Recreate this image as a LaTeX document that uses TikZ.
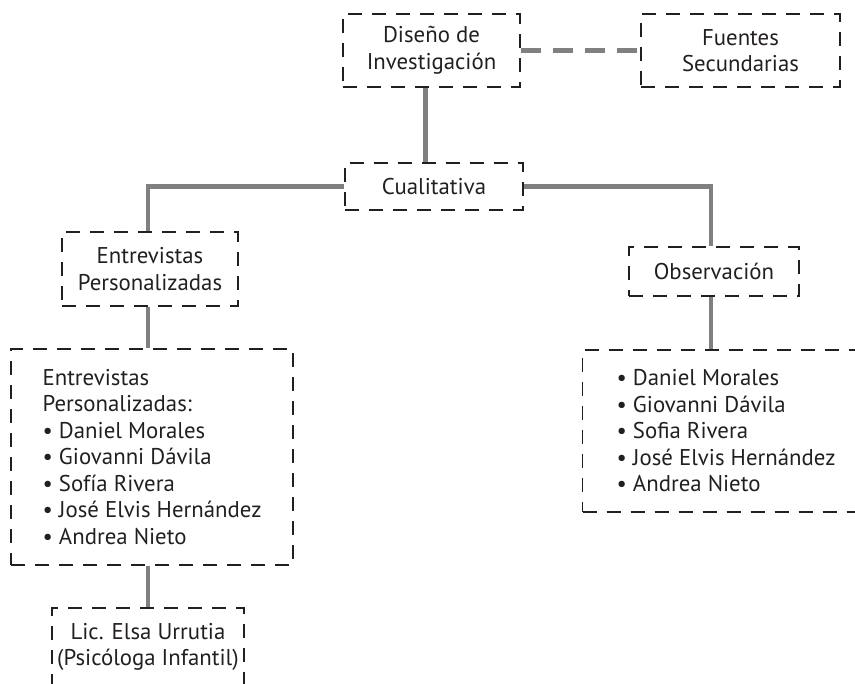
\documentclass[tikz,border=0pt]{standalone}
\usepackage{fontspec}
\setmainfont{PT Sans}
\usetikzlibrary{positioning}
\definecolor{ink}{HTML}{231F20}
\definecolor{linegray}{HTML}{808080}
\begin{document}
\begin{tikzpicture}[x=1pt,y=-1pt,font=\fontsize{22.8}{26.5}\selectfont,text=ink]
        % Define styles for boxes and connectors
        \tikzset{
            dbox/.style={draw=ink, line width=1.2pt, dash pattern=on 14pt off 10pt, align=center, inner sep=0pt},
            listbox/.style={dbox, align=left},
            conn/.style={draw=linegray, line width=4.5pt},
            dconn/.style={conn, dash pattern=on 20pt off 12pt}
        }
        \useasboundingbox (0,0) rectangle (855,684);
        % Top row
        \node[dbox, minimum width=177pt, minimum height=73pt] (diseno) at (431.5, 50.5) {Diseño de\\Investigación};
        \node[dbox, minimum width=199pt, minimum height=73pt] (fuentes) at (740.5, 50.5) {Fuentes\\Secundarias};
        \node[dbox, minimum width=178pt, minimum height=47pt] (cualit) at (434, 186.5) {Cualitativa};
        % Left branch
        \node[dbox, minimum width=176pt, minimum height=74pt] (entrev) at (150, 269) {Entrevistas\\Personalizadas};
        \node[listbox, minimum width=282pt, minimum height=216pt] (lista1) at (152, 457) {
            Entrevistas\\
            Personalizadas:\\
            • Daniel Morales\\
            • Giovanni Dávila\\
            • Sofía Rivera\\
            • José Elvis Hernández\\
            • Andrea Nieto
        };
        \node[dbox, minimum width=192pt, minimum height=78pt] (lic) at (148, 647) {Lic. Elsa Urrutia\\(Psicóloga Infantil)};
        % Right branch
        \node[dbox, minimum width=170pt, minimum height=49pt] (obs) at (714, 271.5) {Observación};
        \node[listbox, minimum width=287pt, minimum height=162pt] (lista2) at (726, 431) {
            • Daniel Morales\\
            • Giovanni Dávila\\
            • Sofia Rivera\\
            • José Elvis Hernández\\
            • Andrea Nieto
        };
        % Connectors
        \draw[dconn] (diseno.east) -- (fuentes.west);
        \draw[conn] ([xshift=-6pt]diseno.south) -- ([xshift=-6pt]diseno.south |- cualit.north);
        \draw[conn] (cualit.west) -| ([xshift=-2pt]entrev.north);
        \draw[conn] (cualit.east) -| ([xshift=-3pt]obs.north);
        \draw[conn] ([xshift=-2pt]entrev.south) -- ([xshift=-2pt]entrev.south |- lista1.north);
        \draw[conn] (lic.north |- lista1.south) -- (lic.north);
        \draw[conn] ([xshift=-3pt]obs.south) -- ([xshift=-3pt]obs.south |- lista2.north);
    \end{tikzpicture}
\end{document}
